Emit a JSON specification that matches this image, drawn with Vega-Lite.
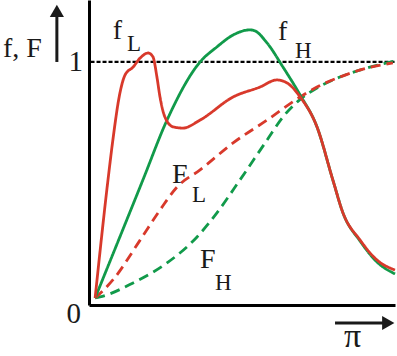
{
  "$schema": "https://vega.github.io/schema/vega-lite/v6.json",
  "width": 306,
  "height": 305,
  "autosize": "none",
  "padding": {"left": 89, "top": 0, "right": 2, "bottom": 51},
  "background": "white",
  "config": {"view": {"stroke": null}},
  "datasets": {
    "curves": [
      {"curve": "F_H", "x": 0.02, "y": 0.029},
      {"curve": "F_H", "x": 0.036, "y": 0.033},
      {"curve": "F_H", "x": 0.144, "y": 0.091},
      {"curve": "F_H", "x": 0.255, "y": 0.173},
      {"curve": "F_H", "x": 0.353, "y": 0.28},
      {"curve": "F_H", "x": 0.418, "y": 0.379},
      {"curve": "F_H", "x": 0.493, "y": 0.514},
      {"curve": "F_H", "x": 0.582, "y": 0.679},
      {"curve": "F_H", "x": 0.634, "y": 0.774},
      {"curve": "F_H", "x": 0.69, "y": 0.846},
      {"curve": "F_H", "x": 0.745, "y": 0.893},
      {"curve": "F_H", "x": 0.82, "y": 0.938},
      {"curve": "F_H", "x": 0.908, "y": 0.975},
      {"curve": "F_H", "x": 1.0, "y": 1.004},
      {"curve": "F_L", "x": 0.02, "y": 0.029},
      {"curve": "F_L", "x": 0.078, "y": 0.103},
      {"curve": "F_L", "x": 0.167, "y": 0.267},
      {"curve": "F_L", "x": 0.232, "y": 0.391},
      {"curve": "F_L", "x": 0.288, "y": 0.486},
      {"curve": "F_L", "x": 0.363, "y": 0.556},
      {"curve": "F_L", "x": 0.471, "y": 0.667},
      {"curve": "F_L", "x": 0.582, "y": 0.761},
      {"curve": "F_L", "x": 0.69, "y": 0.856},
      {"curve": "F_L", "x": 0.745, "y": 0.897},
      {"curve": "F_L", "x": 0.82, "y": 0.938},
      {"curve": "F_L", "x": 0.908, "y": 0.975},
      {"curve": "F_L", "x": 0.993, "y": 0.996},
      {"curve": "f_H", "x": 0.02, "y": 0.029},
      {"curve": "f_H", "x": 0.176, "y": 0.514},
      {"curve": "f_H", "x": 0.255, "y": 0.761},
      {"curve": "f_H", "x": 0.363, "y": 1.0},
      {"curve": "f_H", "x": 0.418, "y": 1.062},
      {"curve": "f_H", "x": 0.471, "y": 1.111},
      {"curve": "f_H", "x": 0.526, "y": 1.132},
      {"curve": "f_H", "x": 0.542, "y": 1.128},
      {"curve": "f_H", "x": 0.582, "y": 1.078},
      {"curve": "f_H", "x": 0.634, "y": 0.979},
      {"curve": "f_H", "x": 0.69, "y": 0.864},
      {"curve": "f_H", "x": 0.745, "y": 0.733},
      {"curve": "f_H", "x": 0.797, "y": 0.514},
      {"curve": "f_H", "x": 0.83, "y": 0.379},
      {"curve": "f_H", "x": 0.886, "y": 0.263},
      {"curve": "f_H", "x": 0.941, "y": 0.177},
      {"curve": "f_H", "x": 1.0, "y": 0.128},
      {"curve": "f_L", "x": 0.02, "y": 0.029},
      {"curve": "f_L", "x": 0.062, "y": 0.514},
      {"curve": "f_L", "x": 0.078, "y": 0.679},
      {"curve": "f_L", "x": 0.101, "y": 0.872},
      {"curve": "f_L", "x": 0.118, "y": 0.947},
      {"curve": "f_L", "x": 0.144, "y": 0.979},
      {"curve": "f_L", "x": 0.167, "y": 1.016},
      {"curve": "f_L", "x": 0.193, "y": 1.037},
      {"curve": "f_L", "x": 0.209, "y": 1.021},
      {"curve": "f_L", "x": 0.222, "y": 0.938},
      {"curve": "f_L", "x": 0.232, "y": 0.856},
      {"curve": "f_L", "x": 0.248, "y": 0.774},
      {"curve": "f_L", "x": 0.275, "y": 0.733},
      {"curve": "f_L", "x": 0.307, "y": 0.728},
      {"curve": "f_L", "x": 0.363, "y": 0.761},
      {"curve": "f_L", "x": 0.471, "y": 0.856},
      {"curve": "f_L", "x": 0.559, "y": 0.897},
      {"curve": "f_L", "x": 0.614, "y": 0.926},
      {"curve": "f_L", "x": 0.647, "y": 0.914},
      {"curve": "f_L", "x": 0.69, "y": 0.856},
      {"curve": "f_L", "x": 0.745, "y": 0.733},
      {"curve": "f_L", "x": 0.797, "y": 0.514},
      {"curve": "f_L", "x": 0.83, "y": 0.379},
      {"curve": "f_L", "x": 0.886, "y": 0.267},
      {"curve": "f_L", "x": 0.941, "y": 0.185},
      {"curve": "f_L", "x": 1.0, "y": 0.144}
    ],
    "bigText": [
      {"t": "f, F", "x": -0.281, "y": 1.021},
      {"t": "f", "x": 0.078, "y": 1.095},
      {"t": "f", "x": 0.618, "y": 1.091},
      {"t": "F", "x": 0.271, "y": 0.502},
      {"t": "F", "x": 0.363, "y": 0.152}
    ],
    "subText": [
      {"t": "L", "x": 0.124, "y": 1.045},
      {"t": "H", "x": 0.673, "y": 1.016},
      {"t": "L", "x": 0.337, "y": 0.424},
      {"t": "H", "x": 0.412, "y": 0.062}
    ],
    "digits": [
      {"t": "1", "x": -0.02, "y": 0.963},
      {"t": "0", "x": -0.026, "y": -0.074}
    ],
    "refLine": [
      {"x1": 0.005, "x2": 1.0, "y": 1.0}
    ],
    "shafts": [
      {"x1": -0.105, "x2": -0.105, "y1": 1.0, "y2": 1.185},
      {"x1": 0.804, "x2": 0.965, "y1": -0.074, "y2": -0.074}
    ],
    "heads": [
      {"dir": "up", "x": -0.105, "y": 1.21},
      {"dir": "right", "x": 0.978, "y": -0.074}
    ]
  },
  "layer": [
    {
      "data": {"name": "refLine"},
      "mark": {"type": "rule", "strokeDash": [4, 2], "strokeWidth": 2.2, "color": "black"},
      "encoding": {
        "x": {"field": "x1", "type": "quantitative", "scale": {"domain": [0, 1], "nice": false, "zero": false},
          "axis": {"title": null, "labels": false, "ticks": false, "grid": false, "domain": true, "domainWidth": 3, "domainColor": "black"}},
        "x2": {"field": "x2"},
        "y": {"field": "y", "type": "quantitative", "scale": {"domain": [0, 1.255], "nice": false},
          "axis": {"title": null, "labels": false, "ticks": false, "grid": false, "domain": true, "domainWidth": 3, "domainColor": "black"}}
      }
    },
    {
      "data": {"name": "curves"},
      "mark": {"type": "line", "strokeWidth": 2.8, "interpolate": "monotone"},
      "encoding": {
        "x": {"field": "x", "type": "quantitative"},
        "y": {"field": "y", "type": "quantitative"},
        "color": {"field": "curve", "type": "nominal", "legend": null,
          "scale": {"domain": ["F_H", "F_L", "f_H", "f_L"], "range": ["#119a4a", "#d8392b", "#119a4a", "#d8392b"]}},
        "strokeDash": {"field": "curve", "type": "nominal", "legend": null,
          "scale": {"domain": ["F_H", "F_L", "f_H", "f_L"], "range": [[10, 6], [10, 6], [1, 0], [1, 0]]}}
      }
    },
    {
      "data": {"name": "bigText"},
      "mark": {"type": "text", "font": "'Liberation Serif', 'DejaVu Serif', serif", "fontSize": 28, "align": "left", "baseline": "alphabetic", "color": "#1a1a1a"},
      "encoding": {
        "x": {"field": "x", "type": "quantitative"},
        "y": {"field": "y", "type": "quantitative"},
        "text": {"field": "t"}
      }
    },
    {
      "data": {"name": "subText"},
      "mark": {"type": "text", "font": "'Liberation Serif', 'DejaVu Serif', serif", "fontSize": 23, "align": "left", "baseline": "alphabetic", "color": "#1a1a1a"},
      "encoding": {
        "x": {"field": "x", "type": "quantitative"},
        "y": {"field": "y", "type": "quantitative"},
        "text": {"field": "t"}
      }
    },
    {
      "data": {"name": "digits"},
      "mark": {"type": "text", "font": "'Liberation Serif', 'DejaVu Serif', serif", "fontSize": 29, "align": "right", "baseline": "alphabetic", "color": "#1a1a1a"},
      "encoding": {
        "x": {"field": "x", "type": "quantitative"},
        "y": {"field": "y", "type": "quantitative"},
        "text": {"field": "t"}
      }
    },
    {
      "data": {"values": [{"t": "π", "x": 0.833, "y": -0.172}]},
      "mark": {"type": "text", "font": "'Liberation Serif', 'DejaVu Serif', serif", "fontSize": 34, "align": "left", "baseline": "alphabetic", "color": "#1a1a1a"},
      "encoding": {
        "x": {"field": "x", "type": "quantitative"},
        "y": {"field": "y", "type": "quantitative"},
        "text": {"field": "t"}
      }
    },
    {
      "data": {"name": "shafts"},
      "mark": {"type": "rule", "strokeWidth": 3, "color": "#1a1a1a"},
      "encoding": {
        "x": {"field": "x1", "type": "quantitative"},
        "x2": {"field": "x2"},
        "y": {"field": "y1", "type": "quantitative"},
        "y2": {"field": "y2"}
      }
    },
    {
      "data": {"name": "heads"},
      "mark": {"type": "point", "filled": true, "size": 200, "color": "#1a1a1a", "opacity": 1},
      "encoding": {
        "x": {"field": "x", "type": "quantitative"},
        "y": {"field": "y", "type": "quantitative"},
        "shape": {"field": "dir", "type": "nominal", "legend": null,
          "scale": {"domain": ["up", "right"], "range": ["triangle-up", "triangle-right"]}}
      }
    }
  ]
}
